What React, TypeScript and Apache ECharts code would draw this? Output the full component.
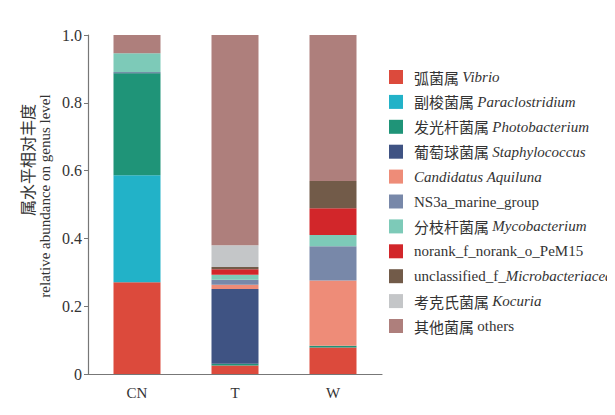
import React, { useEffect, useRef } from "react";
import * as echarts from "echarts";

const categories = ["CN", "T", "W"];
const yTicks = [0, 0.2, 0.4, 0.6, 0.8, 1.0];

const genusCn = ["弧菌属", "副梭菌属", "发光杆菌属", "葡萄球菌属", "", "", "分枝杆菌属", "", "", "考克氏菌属", "其他菌属"];
const genusLatin = ["Vibrio", "Paraclostridium", "Photobacterium", "Staphylococcus", "Candidatus Aquiluna", "NS3a_marine_group", "Mycobacterium", "norank_f_norank_o_PeM15", "unclassified_f_", "Kocuria", "others"];
const genusItalic = ["Vibrio", "Paraclostridium", "Photobacterium", "Staphylococcus", "Candidatus Aquiluna", "", "Mycobacterium", "", "Microbacteriaceae", "Kocuria", ""];
const colors = ["#DC4A3C", "#22B2C8", "#1F9478", "#3F5383", "#EE8C78", "#7888A9", "#7DCAB8", "#D2262A", "#725B49", "#C4C6C8", "#AE7F7C"];

const vibrio = [0.271, 0.025, 0.078];
const paraclostridium = [0.315, 0, 0];
const photobacterium = [0.301, 0.005, 0.005];
const staphylococcus = [0.003, 0.221, 0];
const candidatus = [0, 0.012, 0.193];
const ns3a = [0, 0.015, 0.101];
const mycobacterium = [0.056, 0.015, 0.033];
const norank = [0, 0.016, 0.079];
const unclassified = [0, 0.007, 0.08];
const kocuria = [0, 0.064, 0];
const others = [0.054, 0.62, 0.431];

const seriesValues = [vibrio, paraclostridium, photobacterium, staphylococcus, candidatus, ns3a, mycobacterium, norank, unclassified, kocuria, others];

const FONT = "'Liberation Serif', 'Noto Sans CJK SC', serif";

function legendLabel(i: number): string {
  const cn = genusCn[i];
  const latin = genusLatin[i];
  const it = genusItalic[i];
  if (i === 4) return `{i|${it}}`;
  if (i === 5) return `{n|${latin}}`;
  if (i === 7) return `{n|${latin}}`;
  if (i === 8) return `{n|unclassified_f_}{i|${it}}`;
  if (i === 10) return `{c|${cn} }{n|${latin}}`;
  return `{c|${cn} }{i|${it}}`;
}

export default function App() {
  const ref = useRef<HTMLDivElement>(null);
  useEffect(() => {
    if (!ref.current) return;
    const chart = echarts.init(ref.current, null, { renderer: "svg" });
    const names = genusLatin.map((_, i) => `g${i}`);
    const labelMap: Record<string, string> = {};
    names.forEach((n, i) => (labelMap[n] = legendLabel(i)));
    chart.setOption({
      animation: false,
      backgroundColor: "#ffffff",
      textStyle: { fontFamily: FONT },
      grid: { left: 88, right: 233, top: 35, bottom: 41, containLabel: false },
      legend: {
        orient: "vertical",
        left: 389,
        top: 69.5,
        padding: 0,
        itemWidth: 14,
        itemHeight: 14,
        itemGap: 9.9,
        icon: "rect",
        data: names,
        formatter: (n: string) => labelMap[n],
        textStyle: {
          fontFamily: FONT,
          fontSize: 15,
          color: "#333",
          padding: [0, 0, 0, 6],
          rich: {
            c: { fontFamily: "'Noto Sans CJK SC', sans-serif", fontSize: 15, lineHeight: 15, color: "#333" },
            i: { fontFamily: FONT, fontStyle: "italic", fontSize: 15, lineHeight: 15, color: "#333" },
            n: { fontFamily: FONT, fontSize: 15, lineHeight: 15, color: "#333" },
          },
        },
      },
      xAxis: {
        type: "category",
        data: categories,
        axisLine: { lineStyle: { color: "#777", width: 1.2 } },
        axisTick: { show: true, inside: true, alignWithLabel: true, length: 4, lineStyle: { color: "#333" } },
        axisLabel: { fontFamily: FONT, fontSize: 15, color: "#333", margin: 11 },
      },
      yAxis: {
        type: "value",
        min: 0,
        max: 1,
        interval: 0.2,
        splitLine: { show: false },
        axisLine: { show: true, lineStyle: { color: "#777", width: 1.2 } },
        axisTick: { show: true, length: 4, lineStyle: { color: "#777" } },
        axisLabel: {
          fontFamily: FONT,
          fontSize: 16,
          color: "#333",
          margin: 6,
          formatter: (v: number) => (v === 0 ? "0" : yTicks.includes(Number(v.toFixed(1))) ? v.toFixed(1) : ""),
        },
      },
      graphic: [
        {
          type: "text",
          x: 27,
          y: 160,
          rotation: Math.PI / 2,
          style: {
            text: "属水平相对丰度",
            fontFamily: "'Noto Sans CJK SC', sans-serif",
            fontSize: 16,
            fill: "#333",
            textAlign: "center",
            textVerticalAlign: "middle",
          },
        },
        {
          type: "text",
          x: 45,
          y: 196,
          rotation: Math.PI / 2,
          style: {
            text: "relative abundance on genus level",
            fontFamily: FONT,
            fontSize: 15,
            fill: "#333",
            textAlign: "center",
            textVerticalAlign: "middle",
          },
        },
      ],
      series: seriesValues.map((vals, i) => ({
        name: names[i],
        type: "bar",
        stack: "total",
        barWidth: 47,
        data: vals,
        itemStyle: { color: colors[i] },
      })),
    });
    return () => chart.dispose();
  }, []);
  return <div ref={ref} style={{ width: 615, height: 415, margin: -8 }} />;
}
